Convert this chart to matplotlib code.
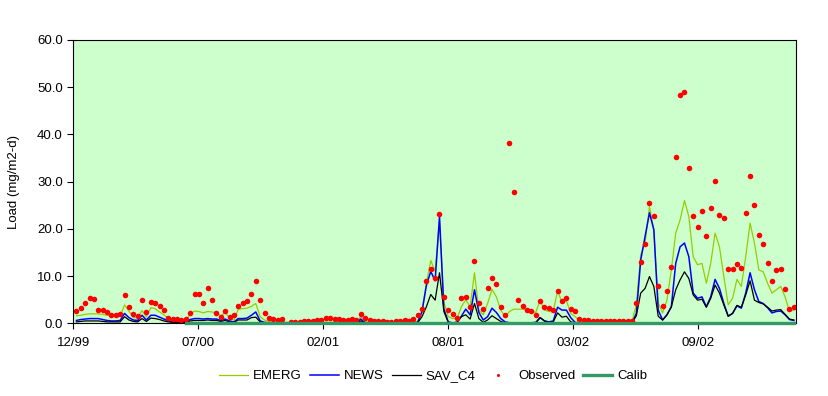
import numpy as np
import matplotlib
matplotlib.use("Agg")
import matplotlib.pyplot as plt

plt.rcParams['font.family'] = ['Liberation Sans', 'DejaVu Sans']

# weekly samples, day 0 = first tick (12/99)
first_day = 5
step_days = 7

nan = np.nan
observed = [
    2.7, 3.3, 4.4, 5.4, 5.2, 2.9, 2.9, 2.4, 1.8, 1.7,
    1.9, 5.9, 3.5, 2.0, 1.6, 5.0, 2.4, 4.6, 4.4, 3.7,
    2.9, 1.2, 1.0, 1.0, 0.8, 1.0, 2.2, 6.1, 6.3, 4.4,
    7.5, 5.0, 2.2, 1.4, 2.5, 1.3, 1.8, 3.7, 4.2, 4.8,
    6.1, 9.0, 5.0, 2.2, 1.2, 1.0, 0.8, 1.0, nan, 0.35,
    0.35, 0.35, 0.55, 0.55, 0.55, 0.76, 0.76, 1.2, 1.2, 1.0,
    1.0, 0.76, 0.76, 1.0, 0.76, 2.0, 1.2, 0.76, 0.55, 0.55,
    0.55, 0.35, 0.35, 0.55, 0.55, 0.76, 0.55, 1.0, 1.8, 3.1,
    9.0, 11.4, 9.5, 23.2, 5.6, 2.9, 2.0, 1.2, 5.4, 5.6,
    3.5, 13.3, 4.4, 3.1, 7.5, 9.5, 8.4, 3.5, 1.8, 38.1,
    27.9, 5.0, 3.7, 2.9, 2.5, 1.8, 4.8, 3.5, 3.3, 2.9,
    6.9, 4.8, 5.4, 3.1, 2.7, 1.0, 0.76, 0.76, 0.55, 0.55,
    0.55, 0.55, 0.55, 0.55, 0.55, 0.55, 0.55, 0.55, 4.2, 12.9,
    16.9, 25.4, 22.8, 8.0, 3.7, 6.9, 12.0, 35.3, 48.3, 48.9,
    32.8, 22.8, 20.3, 23.7, 18.4, 24.5, 30.2, 23.0, 22.2, 11.6,
    11.6, 12.6, 11.8, 23.4, 31.3, 25.1, 18.6, 16.9, 12.8, 9.0,
    11.2, 11.6, 7.3, 3.1, 3.5,
]

emerg = [
    1.6, 1.7, 1.9, 2.0, 2.0, 2.0, 1.9, 1.7, 1.6, 1.5,
    1.5, 3.9, 2.6, 1.2, 1.2, 2.7, 1.4, 3.3, 3.1, 2.4,
    1.8, 1.0, 0.7, 0.6, 0.5, 0.5, 1.9, 2.6, 2.5, 2.2,
    2.5, 2.4, 2.2, 1.6, 2.2, 1.2, 0.7, 3.0, 3.1, 3.2,
    3.6, 4.2, 1.4, 0.7, 0.4, 0.2, 0.2, 0.2, 0.2, 0.2,
    0.2, 0.2, 0.2, 0.2, 0.2, 0.2, 0.2, 0.2, 0.2, 0.2,
    0.2, 0.2, 0.2, 0.2, 0.3, 1.4, 0.4, 0.2, 0.2, 0.2,
    0.2, 0.2, 0.2, 0.2, 0.2, 0.2, 0.2, 0.2, 0.4, 2.5,
    8.5, 13.3, 11.0, 21.5, 4.5, 1.4, 1.0, 1.0, 3.5, 5.0,
    3.5, 10.7, 2.8, 1.8, 4.2, 7.2, 5.6, 2.8, 1.4, 2.5,
    3.0, 3.0, 3.0, 2.8, 2.5, 2.3, 4.9, 2.8, 2.5, 2.5,
    6.9, 4.4, 4.8, 2.1, 1.4, 0.6, 0.2, 0.2, 0.2, 0.2,
    0.2, 0.2, 0.2, 0.2, 0.2, 0.2, 0.2, 0.3, 4.0, 14.5,
    17.0, 24.7, 19.8, 4.3, 2.2, 4.9, 11.3, 19.1, 21.9, 26.0,
    22.6, 14.1, 12.4, 12.7, 8.5, 12.7, 19.1, 16.2, 9.9, 3.9,
    5.3, 9.3, 7.8, 14.1, 21.2, 17.0, 11.3, 10.9, 8.5, 6.4,
    7.1, 7.8, 5.6, 2.5, 2.8,
]

news = [
    0.6, 0.8, 0.9, 1.0, 1.0, 1.0, 0.8, 0.6, 0.5, 0.5,
    0.6, 2.1, 1.2, 0.7, 0.6, 1.7, 0.7, 1.7, 1.7, 1.3,
    0.9, 0.5, 0.4, 0.3, 0.3, 0.3, 0.8, 1.0, 1.0, 0.9,
    1.0, 0.9, 0.9, 0.6, 0.9, 0.5, 0.3, 1.0, 1.0, 1.1,
    1.7, 2.4, 0.5, 0.2, 0.1, 0.1, 0.05, 0.05, 0.05, 0.05,
    0.05, 0.05, 0.05, 0.05, 0.05, 0.05, 0.05, 0.05, 0.05, 0.05,
    0.05, 0.05, 0.05, 0.05, 0.1, 0.9, 0.1, 0.05, 0.05, 0.05,
    0.05, 0.05, 0.05, 0.05, 0.05, 0.05, 0.05, 0.05, 0.2, 2.5,
    8.0, 11.0, 9.0, 22.6, 3.0, 0.3, 0.1, 0.2, 1.5, 3.0,
    1.8, 7.1, 2.3, 0.7, 1.4, 3.2, 2.3, 1.0, 0.3, 0.1,
    0.1, 0.1, 0.1, 0.1, 0.1, 0.2, 1.2, 0.5, 0.3, 0.5,
    3.4, 2.8, 2.8, 1.2, 0.2, 0.05, 0.05, 0.05, 0.05, 0.05,
    0.05, 0.05, 0.05, 0.05, 0.05, 0.05, 0.05, 0.05, 2.1, 13.4,
    18.4, 23.4, 19.8, 2.8, 0.7, 1.8, 3.5, 12.7, 16.2, 17.0,
    14.1, 6.4, 5.3, 5.6, 3.5, 5.6, 9.3, 7.4, 4.2, 1.5,
    2.1, 3.7, 3.2, 6.4, 10.7, 7.1, 4.6, 4.2, 3.3, 2.2,
    2.5, 2.6, 1.8, 0.8, 0.6,
]

sav_c4 = [
    0.3, 0.4, 0.5, 0.5, 0.5, 0.5, 0.4, 0.3, 0.3, 0.3,
    0.3, 1.4, 0.7, 0.4, 0.3, 1.0, 0.4, 1.1, 1.0, 0.8,
    0.5, 0.3, 0.2, 0.2, 0.2, 0.2, 0.5, 0.6, 0.6, 0.6,
    0.7, 0.6, 0.6, 0.4, 0.6, 0.3, 0.2, 0.7, 0.7, 0.7,
    1.2, 1.3, 0.3, 0.1, 0.05, 0.05, 0.05, 0.05, 0.05, 0.05,
    0.05, 0.05, 0.05, 0.05, 0.05, 0.05, 0.05, 0.05, 0.05, 0.05,
    0.05, 0.05, 0.05, 0.05, 0.05, 0.5, 0.05, 0.05, 0.05, 0.05,
    0.05, 0.05, 0.05, 0.05, 0.05, 0.05, 0.05, 0.05, 0.1, 1.4,
    3.5, 6.1, 4.9, 10.7, 2.5, 0.2, 0.1, 0.2, 1.4, 1.8,
    0.9, 4.2, 1.0, 0.2, 0.7, 1.6, 1.0, 0.4, 0.1, 0.05,
    0.05, 0.05, 0.05, 0.05, 0.05, 0.05, 1.2, 0.5, 0.2, 0.3,
    2.2, 1.3, 1.5, 0.3, 0.1, 0.05, 0.05, 0.05, 0.05, 0.05,
    0.05, 0.05, 0.05, 0.05, 0.05, 0.05, 0.05, 0.05, 1.6, 6.4,
    7.4, 9.9, 7.8, 1.5, 0.7, 1.8, 3.5, 7.1, 9.2, 10.9,
    9.5, 6.0, 4.9, 5.1, 3.4, 5.3, 8.1, 6.4, 3.9, 1.5,
    2.1, 3.8, 3.4, 6.0, 9.0, 4.9, 4.4, 4.1, 3.4, 2.6,
    2.8, 2.9, 1.9, 0.9, 0.7,
]

# calibration period marker (zero line from mid-2000 onwards)
calib = [nan] * 25 + [0.0] * 140

tick_days = [0, 200, 400, 600, 800, 1000]
tick_labels = ['12/99', '07/00', '02/01', '08/01', '03/02', '09/02']

days = first_day + step_days * np.arange(len(observed))

fig = plt.figure(figsize=(8.29, 3.96), dpi=100)
ax = fig.add_axes([73.3 / 829, 1 - 323.3 / 396, 722.4 / 829, 283.3 / 396])
ax.set_facecolor('#CCFFCC')

ax.plot(days, emerg, color='#99CC00', lw=0.9, label='EMERG')
ax.plot(days, news, color='#0000FF', lw=1.1, label='NEWS')
ax.plot(days, sav_c4, color='#000000', lw=0.9, label='SAV_C4')
ax.plot(days, observed, 'o', color='#FF0000', ms=4.0, mec='none', label='Observed')
ax.plot(days, calib, color='#339966', lw=2.4, label='Calib', clip_on=False, zorder=3)

ax.set_xlim(0, 1156)
ax.set_ylim(0, 60)
ax.set_xticks(tick_days)
ax.set_xticklabels(tick_labels)
ax.set_yticks(np.arange(0, 61, 10))
ax.set_yticklabels(['%.1f' % v for v in np.arange(0, 61, 10)])
ax.tick_params(axis='both', labelsize=9.5, direction='out', length=4, width=0.8, colors='black')
ax.tick_params(axis='x', pad=6)
for s in ax.spines.values():
    s.set_linewidth(0.8)
    s.set_color('black')

ax.set_ylabel('Load (mg/m2-d)', fontsize=9.5)
ax.yaxis.set_label_coords(-53.0 / 722.4, 0.5)

fig.legend(loc='center', bbox_to_anchor=(433 / 829, 1 - 376 / 396), ncol=5, frameon=False,
           fontsize=9.5, handlelength=2.2, handletextpad=0.4, columnspacing=0.6,
           markerscale=0.55)

fig.savefig('out.png', dpi=100)
